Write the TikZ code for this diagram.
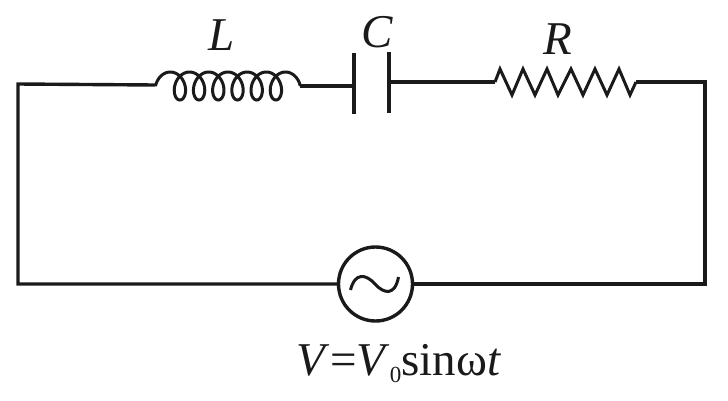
\documentclass[tikz,border=0pt]{standalone}
\usepackage{fontspec}
\usepackage{xcolor}
\setmainfont{Liberation Serif}
\definecolor{wire}{RGB}{26, 26, 26}
\tikzset{
  lead/.style={color=wire, line width=3.4pt, line join=miter},
  plate/.style={color=wire, line width=3.6pt},
  coil/.style={color=wire, line width=3pt},
  zigzag/.style={color=wire, line width=3pt, line join=miter},
  source/.style={draw=wire, circle, line width=3.4pt, minimum size=74pt, inner sep=0pt},
  tag/.style={anchor=base, inner sep=0pt, text=wire, font=\fontsize{47}{52}\selectfont}
}

\begin{document}
\begin{tikzpicture}[x=1pt, y=-1pt]
      \useasboundingbox (0, 0) rectangle (728, 400);
      % corners of the loop
      \coordinate (tl) at (18, 84);
      \coordinate (tr) at (705, 82);
      \coordinate (bl) at (18, 284);
      \coordinate (br) at (705, 284);
      % ends of the parts
      \coordinate (coilin) at (155.5, 85);
      \coordinate (coilout) at (300, 86);
      \coordinate (plateA) at (354, 86);
      \coordinate (plateB) at (389, 82);
      \coordinate (resin) at (495, 82);
      \coordinate (resout) at (636, 82);
      % source
      \node[source] (src) at (375.5, 284) {};
      \draw[lead] (src.west) -- (bl) -- (tl) -- (coilin);
      \draw[lead] (src.east) -- (br) -- (tr) -- (resout);
      \draw[lead] (coilout) -- (plateA);
      \draw[lead] (plateB) -- (resin);
      % inductor
      \draw[coil] plot[domain=-90:2250, samples=320, variable=\t]
        ({170.3 + \t/360*19.2 + 10*sin(\t)}, {86 - 14*cos(\t)});
      % capacitor
      \draw[plate] (354, 53) -- (354, 114);
      \draw[plate] (389, 52) -- (389, 113);
      % resistor
      \draw[zigzag] (resin) -- (500, 69) -- (512, 95) -- (523, 69) -- (535, 95)
        -- (547, 69) -- (558, 95) -- (571, 69) -- (583, 95) -- (595, 69)
        -- (607, 95) -- (619, 69) -- (630, 95) -- (resout);
      % tilde
      \draw[color=wire, line width=3pt] (350.5, 290)
        .. controls (355, 272) and (366, 274) .. (375, 284)
        .. controls (384, 294) and (395, 296) .. (398.5, 277);
      % labels
      \node[tag] (labL) at (222, 50) {\textit{L}};
      \node[tag] (labC) at (377, 47) {\textit{C}};
      \node[tag] (labR) at (558, 54) {\textit{R}};
      \node[tag] (labV) at (399, 375) {\textit{V}=\textit{V}\raisebox{-7pt}{\fontsize{23}{25}\selectfont 0}sinω\textit{t}};
\end{tikzpicture}
\end{document}
